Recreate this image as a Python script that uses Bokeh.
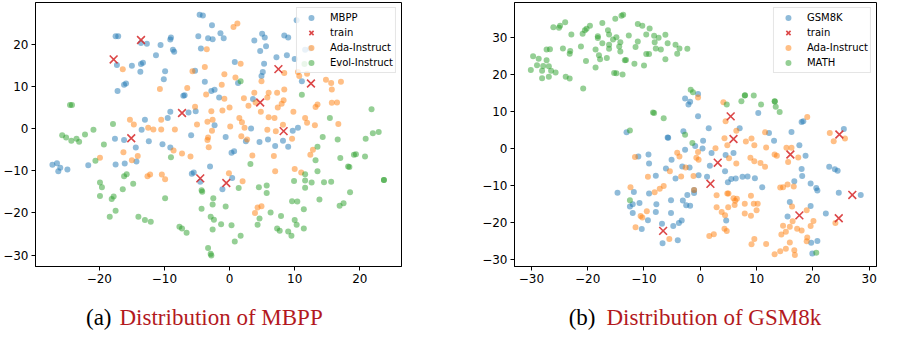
from bokeh.plotting import figure
from bokeh.layouts import row, column
from bokeh.models import (Range1d, FixedTicker, CustomJSTickFormatter, Legend,
                          LegendItem, Label)
from bokeh.embed import file_html
from bokeh.resources import INLINE

# ---------------- data: panel (a) MBPP ----------------
mbpp_x = [-4.6, -4.1, -2.7, -17.5, -17.1, -9.0, -9.1, -4.8, -3.3, -2.6, -1.4, -0.9, -13.6, -12.7, -10.6,
          -8.7, -8.5, -4.4, -11.3, -13.6, -13.3, -17.3, -15.0, -13.7, -9.9, -10.1, -16.2, -15.9, -17.2,
          -7.1, -5.3, -3.8, -2.8, -2.3, -1.6, -6.9, -9.1, -9.5, -6.3, -5.2, -13.0, -13.5, -17.6, -16.2,
          -14.4, -14.3, -12.4, -10.3, -9.1, -5.9, -2.3, -0.6, -27.2, -26.5, -26.0, -26.3, -24.9, -21.7,
          -17.5, -16.1, -5.8, -5.5, -4.5, -3.0, 0.3, 0.7, 0.4, -1.1, 0.8, 1.3, 3.8, 5.0, 5.4, 5.6, 4.7,
          7.2, 5.3, 5.1, 4.9, 8.4, 9.0, 8.8, 10.0, 10.3, 11.6, 12.4, 11.1, 3.6, 3.3, 4.6, 5.9, 7.0, 8.2,
          9.0, 9.7, 10.5, 2.5]
mbpp_y = [27.0, 26.8, 24.5, 21.9, 21.9, 21.6, 21.1, 21.9, 21.4, 21.2, 22.6, 21.4, 20.3, 20.1, 19.8,
          18.7, 18.2, 19.0, 17.4, 15.3, 15.6, 15.1, 14.9, 13.5, 13.6, 11.7, 10.4, 10.7, 8.9,
          7.8, 13.7, 11.1, 8.9, 9.2, 7.4, 7.9, 4.0, 2.5, 3.8, 4.1, 2.1, -0.3, -2.4, -2.7,
          -4.5, -7.8, -3.0, -3.7, -4.5, -1.6, 0.8, -2.0, -8.6, -8.2, -9.3, -10.1, -9.7, -8.7,
          -8.5, -8.3, -10.7, -10.4, -12.6, -9.0, -5.7, -5.4, -11.7, -14.4, 15.8, 10.8, 20.9, 22.5, 21.6, 19.5, 18.4,
          16.9, 15.4, 13.4, 12.5, 22.1, 21.6, 17.4, 16.5, 25.7, 18.7, 19.0, 11.2, 7.0, 0.0, -3.2, -2.6, -4.1, -2.9,
          -4.3, -0.5, 0.2, -3.0]

ada_a_x = [0.6, 1.2, -3.5, -16.4, -3.8, -5.7, 1.7, -0.8, 0.9, -6.5, -10.7, -3.6, -1.2, -0.8, 2.2, 2.9,
           3.8, 4.9, 4.0, 5.8, 6.0, 7.3, 8.4, 8.4, 10.5, 10.7, 11.9, 14.8, 15.6, 17.1, 15.7, 15.7,
           16.5, 16.7, 13.5, 13.2, 11.6, 11.9, 13.1, 8.3, 8.0, 7.4, 8.2, 9.8, 9.6, 7.1, 6.9, 6.0, 4.8,
           5.8, 1.5, 1.9, 2.3, 1.8, 2.7, 3.5, 6.8, 7.0, 10.0, 11.0, 12.4, 12.8, 0.1, 0.0, -1.1, -2.8,
           -3.4, -2.6, -2.7, -3.3, -3.4, -3.2, -5.0, -6.0, -7.3, -5.3, -8.4, -10.5, -10.5, -11.7, -12.5,
           -15.3, -14.7, -14.1, -15.0, -16.3, -19.9, -12.6, -12.2, -10.4, -9.9, -8.6, -0.1, 2.0, 3.9,
           4.3, 4.9, 16.8]
ada_a_y = [24.1, 24.9, 18.8, 14.1, 14.6, 13.6, 15.4, 12.9, 12.1, 9.6, 9.4, 8.1, 10.4, 7.1, 7.2, 5.4,
           8.5, 11.2, 6.2, 7.4, 8.5, 8.5, 9.3, 13.2, 13.4, 12.5, 13.0, 11.6, 10.8, 11.1, 9.3, 6.1,
           6.2, 1.1, 5.7, 5.1, 2.5, 1.4, 0.8, 6.7, 5.9, 5.0, 0.9, 4.0, -2.4, -0.6, 2.5, 2.7, 4.0,
           -0.3, 2.5, 1.5, 0.2, -1.8, -2.6, -6.4, -6.5, -10.1, -9.6, -10.4, -6.2, -5.0, 0.5, 5.0, 4.3, 4.1,
           1.6, 2.1, -0.5, -2.1, -2.7, -4.4, 1.0, -6.6, -5.9, 5.2, -0.2, -0.2, 2.1, -0.2, 0.2,
           2.1, 1.0, -6.5, -7.5, -5.6, -6.9, -11.3, -10.9, -10.9, -12.0, -5.2, -10.6, -12.5, -20.0,
           -18.7, -18.4, 15.0]

evol_x = [-24.5, -24.2, -17.9, -25.7, -25.1, -24.3, -23.5, -23.1, -22.2, -20.9, -19.3, -20.6, -19.9,
          -19.6, -19.9, -17.8, -18.1, -17.5, -18.4, -16.4, -16.2, -15.8, -14.8, -14.0, -13.0, -12.1,
          -9.9, -9.0, -7.7, -7.3, -6.6, -4.3, -4.2, -4.3, -2.5, -2.6, -0.6, -2.9, -2.4, -2.6, -1.3,
          0.3, 1.7, 0.8, -3.3, -2.9, -2.8, 1.4, 1.7, 3.2, 4.5, 5.7, 5.7, 4.6, 4.3, 6.3, 7.3, 7.7, 7.9,
          9.0, 9.5, 9.6, 10.4, 10.0, 10.3, 9.9, 11.4, 11.4, 11.6, 11.6, 11.6, 12.6, 13.2, 13.5, 13.5,
          13.8, 14.3, 14.5, 15.6, 15.4, 16.6, 17.0, 16.9, 17.5, 18.2, 18.4, 18.5, 19.1, 19.4, 20.8,
          20.9, 22.0, 22.9, 21.8, 23.7, 23.7, 11.5, 11.1]
evol_y = [5.6, 5.6, 1.1, -1.6, -2.1, -2.9, -2.4, -3.1, -1.4, -0.3, -3.8, -7.6, -12.8,
          -13.9, -16.0, -16.1, -16.7, -19.5, -20.9, -14.4, -11.3, -10.8, -13.1, -20.9, -21.7, -22.1,
          -16.5, -6.8, -23.3, -23.7, -24.7, -14.6, -15.0, -19.0, -16.5, -18.0, -18.5, -20.9, -21.6, -23.9, -22.7,
          -22.9, -25.4, -26.8, -28.3, -29.7, -30.1, -14.1, 11.2, -8.4, -13.9, -13.5, -15.3, -21.3, -22.8, -19.9, -23.7, -24.2, -20.7,
          -24.4, -25.4, -17.2, -17.3, -21.7, -22.8, -12.4, -19.1, -23.7, -10.8, -12.3, -14.0, -12.8, -7.5, -4.3, -10.1,
          -16.8, -2.0, -12.7, -12.6, 2.5, -2.6, -7.0, -18.3, -17.7, -9.0, -9.1, -15.1, -6.2, -6.1, -6.6,
          -2.4, -1.1, -0.8, 4.6, -12.2, -12.2, 15.3, 8.0]

train_a_x = [-13.6, -17.8, -7.3, -15.1, -4.5, -0.5, 4.7, 7.5, 12.5, 8.3]
train_a_y = [21.0, 16.4, 3.7, -2.3, -11.8, -12.9, 6.2, 14.1, 10.7, -0.6]

# ---------------- data: panel (b) GSM8k ----------------
gsm_x = [-0.4, -2.7, -1.8, -2.1, -0.4, 1.5, -13.1, -5.8, -5.7, -3.0, 0.5, 0.4, -0.9, -2.7, 2.0, 1.7,
         4.4, 4.5, 5.9, 7.0, 10.3, 12.2, 13.1, 16.2, 18.0, 18.3, 17.6, 18.7, 18.0, 18.1, 16.7, 15.9,
         15.5, 19.6, 20.6, 20.8, 19.6, 22.3, 22.9, 23.9, 24.4, 24.6, 25.5, 28.5, 19.7, 20.8, 19.9,
         4.9, 5.5, 6.3, 7.5, 8.4, 9.7, 11.0, 4.6, 1.2, -0.3, -1.1, -1.1, -1.8, -2.3, -2.5, -3.1, -4.4,
         -5.1, -6.1, -5.2, -5.2, -4.8, -3.3, -3.8, -4.0, -6.8, -6.7, -7.9, -7.8, -7.9, -9.2, -9.1,
         -9.1, -9.3, -11.0, -11.8, -12.0, -12.5, -12.0, -10.8, -10.4, -14.7, -1.9, -3.2]
gsm_y = [14.7, 13.5, 12.6, 11.9, 8.7, 5.5, 4.4, 3.0, 2.9, 4.7, 2.1, 0.0, 0.7, -0.3, -1.2, -4.6,
         -6.1, -1.7, -1.2, 5.5, 9.6, 4.2, 2.1, 4.5, 7.2, 7.4, 0.9, -1.9, -5.5, -7.4, -8.8, -14.4,
         -18.3, -9.4, -10.6, -11.3, -15.5, -17.5, -4.9, -5.6, -6.0, -11.9, 5.3, -12.5, -25.4, -24.9, -28.3,
         -9.1, -8.2, -8.1, -7.6, -7.5, -8.0, -10.4, -19.4, -7.6, -7.2, -12.0, -11.2, -15.4, -12.5, -15.3, -14.0, -8.1,
         -3.0, -5.4, -13.9, -17.4, -20.9, -19.4, -20.1, -24.7, -20.3, -25.5, -7.3, -15.0, -17.1, -1.6, -4.0,
         -12.1, -19.3, -2.1, -11.7, -15.0, -15.6, -17.4, -14.7, -21.7, -11.9, -5.1, -4.8]

ada_b_x = [-0.4, 4.1, 4.5, 6.4, 4.3, 4.8, 8.1, 9.1, 9.6, 11.5, 11.7, 2.7, 5.1, 6.4, 8.9, 9.6, 10.7,
           11.5, 13.2, 13.6, 15.3, 16.2, 15.6, 17.4, 19.0, 23.0, 23.7, 25.7, 16.6, 14.7, 14.2, 15.5,
           16.3, 18.9, 16.4, 20.1, 19.6, 14.7, 15.9, 17.2, 18.0, 15.2, 14.4, 19.0, 18.9, 15.9, 15.2,
           16.7, 16.8, 14.2, 13.2, 11.7, 9.6, 9.1, 24.0, 9.0, 7.9, 7.9, 9.5, 10.0, 10.2, 9.0, 6.1, 4.8,
           4.96, 2.9, 3.8, 4.4, 4.3, 4.7, 2.4, 1.6, 2.9, 5.0, 5.9, 6.2, 6.5, -1.1, -1.2, -0.7, -0.3,
           -0.4, -3.7, -4.1, -5.4, -2.6, -3.4, -6.5, -7.2, -8.1, -9.3, -5.5, -9.5, -10.6, -10.3, -11.5,
           -12.4, -11.6]
ada_b_y = [13.8, 12.5, 7.4, 4.8, 2.8, 0.9, 1.9, 2.7, 0.9, 4.4, 0.3, 0.1, -2.6, -4.0, -2.5, -3.4, -3.9,
           -4.9, -1.6, -1.9, 0.2, 0.2, -3.6, -2.4, 8.5, 4.2, 2.0, 2.7, -10.2, -10.4, -10.5, -9.7,
           -15.6, -16.6, -19.6, -19.5, -20.9, -20.8, -21.1, -21.6, -22.1, -22.4, -23.2, -24.0, -25.0, -25.3, -27.0,
           -27.4, -28.7, -27.7, -28.5, -25.7, -24.4, -25.8, -20.1, -18.1, -17.5, -14.9, -14.9, -16.6, -14.9, -12.7, -15.2, -12.1,
           -15.8, -15.8, -17.1, -18.0, -21.6, -22.2, -23.1, -23.6, -12.6, -12.1, -13.4, -14.1, -13.5, -11.2, -7.4, -2.5, -3.0,
           -0.9, -2.1, -1.1, -6.1, -5.1, -7.5, -10.1, -10.8, -11.8, -7.6, -24.4, -16.9, -18.2, -18.6, -21.2,
           -10.4, -2.3]

math_x = [-30.1, -29.7, -29.0, -28.7, -28.1, -27.9, -28.1, -27.3, -27.3, -26.7, -26.9, -26.5, -26.9,
          -25.7, -26.1, -25.1, -24.9, -24.0, -24.4, -23.9, -23.2, -23.2, -23.1, -22.9, -21.2, -20.9,
          -20.5, -20.2, -19.6, -20.3, -20.8, -18.6, -18.6, -18.2, -18.2, -18.0, -17.8, -17.4, -17.4,
          -16.6, -16.4, -16.2, -16.2, -16.2, -15.5, -15.1, -14.9, -15.3, -14.9, -14.4, -14.2, -14.2,
          -14.0, -13.7, -13.8, -13.4, -13.2, -12.7, -11.7, -11.5, -11.1, -11.1, -10.3, -9.6, -10.0,
          -9.6, -9.1, -9.0, -8.2, -8.1, -7.9, -7.4, -7.0, -6.2, -5.8, -6.2, -4.4, -4.1, -3.7, -2.3,
          -1.7, -1.3, -8.4, -8.2, -6.5, -12.5, -2.7, -1.4, -12.5, 4.7, 7.3, 7.9, 7.95, 9.5, 10.8, 13.2,
          13.25, 13.4, 14.1, 20.6]
math_y = [21.2, 24.9, 22.5, 24.2, 21.0, 22.3, 19.0, 23.8, 26.7, 26.8, 22.2, 21.0, 19.4,
          20.5, 32.7, 32.6, 33.1, 34.1, 27.0, 19.4, 18.9, 25.6, 26.3, 30.8, 27.5, 31.0,
          31.9, 32.3, 33.1, 23.6, 16.2, 21.9, 26.7, 30.3, 29.8, 25.2, 24.1, 33.9, 28.4,
          24.4, 31.9, 30.8, 28.0, 26.9, 29.4, 35.0, 30.0, 20.4, 20.3, 27.5, 28.7, 26.2,
          35.8, 36.1, 20.0, 23.8, 23.9, 30.5, 22.9, 27.4, 33.6, 28.9, 33.1, 30.8, 22.4,
          25.5, 25.5, 32.4, 30.4, 28.7, 27.0, 29.9, 26.7, 30.7, 28.4, 24.1, 28.0, 25.6, 27.0, 26.9,
          15.9, 15.2, 9.7, 9.6, 8.2, 4.9, 3.7, 1.5, -13.9, 11.9, 12.8, 14.3, 14.4, 14.3, 11.9, 12.8,
          12.7, 11.3, 9.9, -28.1]

train_b_x = [5.4, 5.9, 3.1, 1.8, -6.6, 16.0, 17.6, 24.7, 24.6, 27.0]
train_b_y = [8.7, 2.6, -3.8, -9.5, -22.2, -1.6, -18.0, 3.8, -18.8, -12.5]

# ---------------- axes ----------------
a_xrange = (-29.8, 26.4)
a_yrange = (-32.7, 29.9)
a_xticks = [-20, -10, 0, 10, 20]
a_yticks = [-30, -20, -10, 0, 10, 20]
b_xrange = (-33.0, 31.3)
b_yrange = (-31.8, 39.4)
b_xticks = [-30, -20, -10, 0, 10, 20, 30]
b_yticks = [-30, -20, -10, 0, 10, 20, 30]

BLUE, ORANGE, GREEN, RED = "#1f77b4", "#ff7f0e", "#2ca02c", "#d62728"
CAP_RED = "#b3191e"
H_MAIN = 290
H_CAP = 40
TOP, BOTTOM = 2, 24

minus_fmt = CustomJSTickFormatter(code="return tick < 0 ? '\u2212' + Math.abs(tick) : String(tick);")


def make_panel(width, left, right, xr, yr, xt, yt, series, train, labels):
    p = figure(width=width, height=H_MAIN, output_backend="svg", toolbar_location=None,
               x_range=Range1d(*xr), y_range=Range1d(*yr),
               min_border_left=left, min_border_right=right,
               min_border_top=TOP, min_border_bottom=BOTTOM)
    p.grid.visible = False
    p.outline_line_color = "black"
    p.outline_line_width = 1
    p.outline_line_alpha = 1
    for ax, ticks in ((p.xaxis[0], xt), (p.yaxis[0], yt)):
        ax.ticker = FixedTicker(ticks=ticks)
        ax.formatter = minus_fmt
        ax.major_label_text_font = "DejaVu Sans"
        ax.major_label_text_font_size = "12px"
        ax.major_label_text_color = "black"
        ax.major_tick_out = 4
        ax.major_tick_in = 0
        ax.minor_tick_out = 0
        ax.minor_tick_in = 0
        ax.axis_line_color = "black"
        ax.major_tick_line_color = "black"
        ax.major_label_standoff = 3
    rends = []
    for (xs, ys, col) in series:
        r = p.scatter(xs, ys, marker="circle", size=6, fill_color=col, fill_alpha=0.5,
                      line_color=None)
        rends.append(r)
    rt = p.scatter(train[0], train[1], marker="x", size=11, line_color=RED,
                   line_width=1.6, line_alpha=0.85)
    items = [LegendItem(label=labels[0], renderers=[rends[0]]),
             LegendItem(label=labels[1], renderers=[rt]),
             LegendItem(label=labels[2], renderers=[rends[1]]),
             LegendItem(label=labels[3], renderers=[rends[2]])]
    leg = Legend(items=items, location="top_right", margin=5, padding=2, spacing=0,
                 glyph_width=24, glyph_height=15, label_height=15, label_standoff=7,
                 label_text_font="DejaVu Sans", label_text_font_size="10px",
                 label_text_color="black",
                 border_line_color="#cccccc", border_line_width=1,
                 background_fill_color="white", background_fill_alpha=0.8)
    p.add_layout(leg)
    return p


def make_caption(width, tag, text, tag_right_px, text_left_px):
    c = figure(width=width, height=H_CAP, output_backend="svg", toolbar_location=None,
               x_range=Range1d(0, width), y_range=Range1d(0, H_CAP),
               x_axis_type=None, y_axis_type=None, min_border=0, title=None)
    c.grid.visible = False
    c.outline_line_color = None
    c.add_layout(Label(x=tag_right_px, y=13, text=tag, text_align="right",
                       text_baseline="alphabetic", text_font="Liberation Serif",
                       text_font_size="23px", text_color="black"))
    c.add_layout(Label(x=text_left_px, y=13, text=text, text_align="left",
                       text_baseline="alphabetic", text_font="Liberation Serif",
                       text_font_size="23px", text_color=CAP_RED))
    return c


pa = make_panel(438, 34, 37, a_xrange, a_yrange, a_xticks, a_yticks,
                [(mbpp_x, mbpp_y, BLUE), (ada_a_x, ada_a_y, ORANGE), (evol_x, evol_y, GREEN)],
                (train_a_x, train_a_y), ["MBPP", "train", "Ada-Instruct", "Evol-Instruct"])
pb = make_panel(439, 76, 1, b_xrange, b_yrange, b_xticks, b_yticks,
                [(gsm_x, gsm_y, BLUE), (ada_b_x, ada_b_y, ORANGE), (math_x, math_y, GREEN)],
                (train_b_x, train_b_y), ["GSM8K", "train", "Ada-Instruct", "MATH"])
ca = make_caption(438, "(a)", "Distribution of MBPP", 111, 119)
cb = make_caption(439, "(b)", "Distribution of GSM8k", 157, 168)

layout = column(row(pa, pb), row(ca, cb))
open("out.html", "w").write(file_html(layout, INLINE))
